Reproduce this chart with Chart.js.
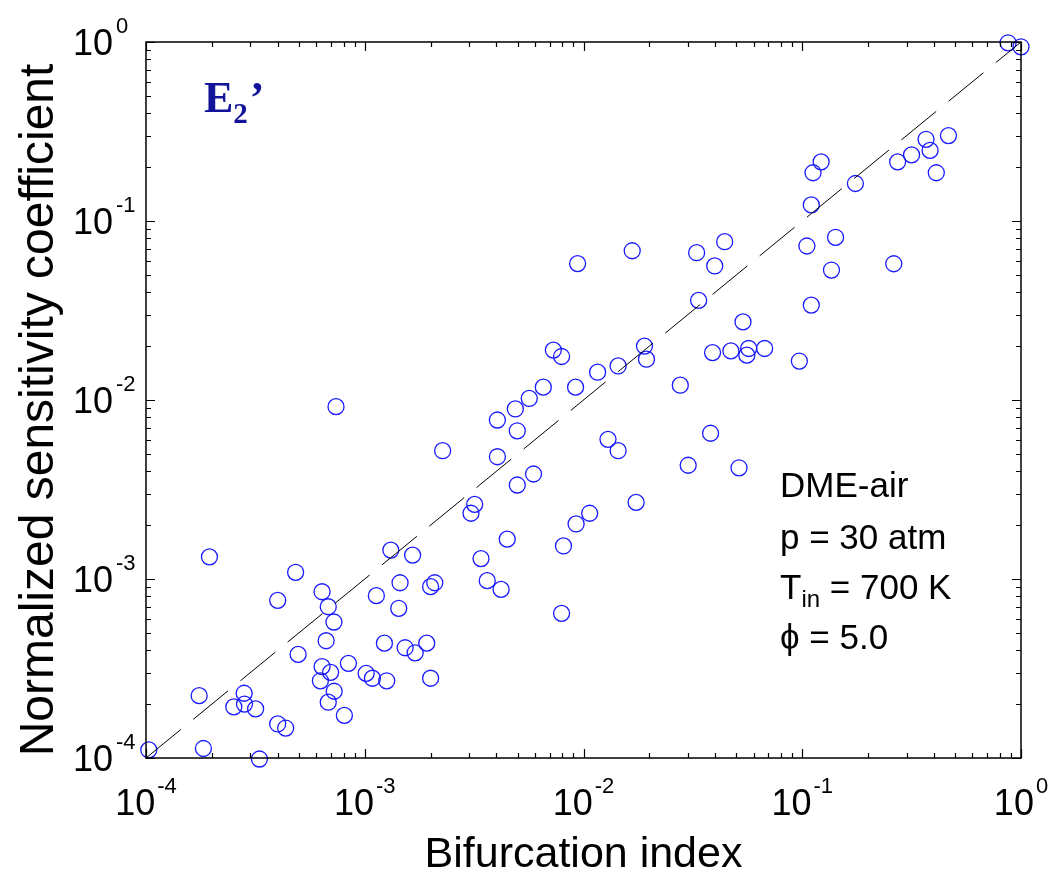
<!DOCTYPE html>
<html>
<head>
<meta charset="utf-8">
<script src="https://cdn.jsdelivr.net/npm/chart.js@4.4.0/dist/chart.umd.min.js"></script>
<style>
  html, body { margin: 0; padding: 0; background: #fff; }
  #wrap { width: 1049px; height: 872px; }
</style>
</head>
<body>
<div id="wrap"><canvas id="chart" width="1049" height="872"></canvas></div>
<script>
// Bifurcation index (x) vs normalized sensitivity coefficient (y)
const bifIndex = [
  0.873, 1.0, 0.466, 0.368, 0.384, 0.316, 0.273, 0.410, 0.122, 0.112,
  0.175, 0.110, 0.0167, 0.0329, 0.0442, 0.0398, 0.105, 0.142, 0.136, 0.262,
  0.110, 0.0336, 0.0536, 0.0389, 0.0472, 0.0569, 0.0558, 0.0673, 0.097, 0.0190,
  0.0194, 0.0144, 0.0277, 0.0094, 0.00728, 0.00794, 0.0116, 0.00655, 0.0092, 0.00565,
  0.00488, 0.00404, 0.00498, 0.000739, 0.00227, 0.00404, 0.01294, 0.0144, 0.0301, 0.00591,
  0.00498, 0.00318, 0.00306, 0.0174, 0.01067, 0.00925, 0.00448, 0.0081, 0.001316, 0.001655,
  0.00340, 0.000638, 0.000681, 0.000723, 0.000666, 0.00113, 0.00145, 0.00143, 0.00200, 0.00209,
  0.00363, 0.00420, 0.00794, 0.000103, 0.000183, 0.00033, 0.000195, 0.000175, 0.000252, 0.000281,
  0.000282, 0.000317, 0.0004, 0.000435, 0.0004, 0.000483, 0.000496, 0.000638, 0.000698, 0.000627,
  0.000725, 0.000681, 0.000807, 0.000842, 0.001015, 0.001084, 0.00126, 0.00123, 0.00153, 0.0017,
  0.00192, 0.002, 0.0381, 0.0514
];
const sensCoef = [
  0.99, 0.94, 0.300, 0.286, 0.248, 0.234, 0.214, 0.186, 0.214, 0.186,
  0.162, 0.123, 0.0682, 0.0665, 0.0766, 0.0561, 0.0725, 0.0811, 0.0532, 0.0577,
  0.0339, 0.0360, 0.0273, 0.0184, 0.0188, 0.0194, 0.0178, 0.0194, 0.0165, 0.0200,
  0.0169, 0.0155, 0.0121, 0.0578, 0.0190, 0.0175, 0.0143, 0.0118, 0.0118, 0.0102,
  0.00891, 0.00773, 0.00673, 0.00918, 0.00521, 0.00482, 0.00603, 0.00521, 0.00432, 0.00386,
  0.00335, 0.00261, 0.00233, 0.00268, 0.00233, 0.00203, 0.00167, 0.00153, 0.00145, 0.00136,
  0.00130, 0.000849, 0.000700, 0.000575, 0.000452, 0.000807, 0.000953, 0.000686, 0.000906, 0.000953,
  0.000979, 0.000875, 0.000643, 0.000111, 0.000113, 0.0000987, 0.00133, 0.000223, 0.000193, 0.000230,
  0.000200, 0.000188, 0.000155, 0.000147, 0.00076, 0.00109, 0.000379, 0.000324, 0.000301, 0.00027,
  0.000236, 0.000205, 0.000173, 0.000338, 0.000297, 0.000279, 0.00027, 0.000438, 0.000413, 0.000387,
  0.000438, 0.000279, 0.00652, 0.00418
];
// y = x reference line
const diagX = [1e-4, 1];
const diagY = [1e-4, 1];
const decadeTicks = [1e-4, 1e-3, 1e-2, 1e-1, 1];
const tickExponents = ['-4', '-3', '-2', '-1', '0'];
const infoLines = ['DME-air', 'p = 30 atm', 'T', '\u03D5 = 5.0'];

const SANS = '"Liberation Sans", Arial, sans-serif';

const axesPlugin = {
  id: 'axesPlugin',
  afterDatasetsDraw(chart) {
    const { ctx, chartArea: a, scales: { x, y } } = chart;
    ctx.save();
    ctx.strokeStyle = '#000';
    ctx.lineWidth = 1.5;
    ctx.strokeRect(a.left, a.top, a.right - a.left, a.bottom - a.top);

    // inward ticks on all sides
    ctx.lineWidth = 1.2;
    ctx.beginPath();
    const vals = [];
    for (let i = 0; i < decadeTicks.length - 1; i++) {
      for (let m = 1; m <= 9; m++) vals.push([m * decadeTicks[i], m === 1]);
    }
    vals.push([1, true]);
    vals.forEach(([v, major]) => {
      const len = major ? 9 : 5;
      const px = Math.round(x.getPixelForValue(v)) + 0.5;
      ctx.moveTo(px, a.bottom); ctx.lineTo(px, a.bottom - len);
      ctx.moveTo(px, a.top); ctx.lineTo(px, a.top + len);
      const py = Math.round(y.getPixelForValue(v)) + 0.5;
      ctx.moveTo(a.left, py); ctx.lineTo(a.left + len, py);
      ctx.moveTo(a.right, py); ctx.lineTo(a.right - len, py);
    });
    ctx.stroke();

    // tick labels 10^n
    ctx.fillStyle = '#000';
    ctx.textBaseline = 'alphabetic';
    decadeTicks.forEach((v, i) => {
      const ex = tickExponents[i];
      ctx.font = '36px ' + SANS;
      const w10 = ctx.measureText('10').width;
      ctx.font = '22px ' + SANS;
      const wEx = ctx.measureText(ex).width;
      // x axis
      const px = x.getPixelForValue(v);
      const start = px - (w10 + 2 + wEx) / 2;
      ctx.textAlign = 'left';
      ctx.font = '36px ' + SANS;
      ctx.fillText('10', start, 815);
      ctx.font = '22px ' + SANS;
      ctx.fillText(ex, start + w10 + 2, 793);
      // y axis
      const py = y.getPixelForValue(v);
      ctx.textAlign = 'right';
      ctx.font = '36px ' + SANS;
      ctx.fillText('10', 113, py + 13);
      ctx.textAlign = 'left';
      ctx.font = '22px ' + SANS;
      ctx.fillText(ex, 116, py - 9);
    });

    // axis titles
    ctx.textAlign = 'center';
    ctx.font = '43px ' + SANS;
    ctx.fillText('Bifurcation index', (a.left + a.right) / 2, 867);
    ctx.save();
    ctx.translate(53, 410);
    ctx.rotate(-Math.PI / 2);
    ctx.font = '48px ' + SANS;
    ctx.fillText('Normalized sensitivity coefficient', 0, 0);
    ctx.restore();

    // panel label E2'
    ctx.textAlign = 'left';
    ctx.fillStyle = '#14149a';
    ctx.font = 'bold 44px "Liberation Serif", "Times New Roman", serif';
    ctx.fillText('E', 204, 112);
    const wE = ctx.measureText('E').width;
    ctx.font = 'bold 29px "Liberation Serif", "Times New Roman", serif';
    ctx.fillText('2', 204 + wE, 123);
    const w2 = ctx.measureText('2').width;
    ctx.font = 'bold 44px "Liberation Serif", "Times New Roman", serif';
    ctx.fillText('\u2019', 204 + wE + w2 + 2, 112);

    // conditions text
    ctx.fillStyle = '#000';
    ctx.font = '35px ' + SANS;
    ctx.fillText(infoLines[0], 780, 497);
    ctx.fillText(infoLines[1], 780, 549);
    ctx.fillText(infoLines[2], 780, 599);
    const wT = ctx.measureText('T').width;
    ctx.font = '24px ' + SANS;
    ctx.fillText('in', 780 + wT, 607);
    const wIn = ctx.measureText('in').width;
    ctx.font = '35px ' + SANS;
    ctx.fillText(' = 700 K', 780 + wT + wIn, 599);
    ctx.fillText(infoLines[3], 780, 649);
    ctx.restore();
  }
};

const points = bifIndex.map((v, i) => ({ x: v, y: sensCoef[i] }));
const diagonal = diagX.map((v, i) => ({ x: v, y: diagY[i] }));

new Chart(document.getElementById('chart'), {
  type: 'scatter',
  data: {
    datasets: [
      {
        data: diagonal,
        showLine: true,
        borderColor: '#000',
        borderWidth: 1,
        borderDash: [45, 16],
        pointRadius: 0
      },
      {
        data: points,
        clip: false,
        pointStyle: 'circle',
        pointRadius: 8,
        pointBorderWidth: 1.3,
        borderColor: '#1a1aff',
        backgroundColor: 'rgba(0,0,0,0)'
      }
    ]
  },
  options: {
    responsive: false,
    animation: false,
    layout: { padding: { left: 0, right: 28, top: 42, bottom: 0 } },
    scales: {
      x: {
        type: 'logarithmic',
        min: 1e-4,
        max: 1,
        grid: { display: false },
        border: { display: false },
        ticks: { display: false },
        afterFit(s) { s.height = 114; }
      },
      y: {
        type: 'logarithmic',
        min: 1e-4,
        max: 1,
        grid: { display: false },
        border: { display: false },
        ticks: { display: false },
        afterFit(s) { s.width = 146; }
      }
    },
    plugins: {
      legend: { display: false },
      tooltip: { enabled: false }
    }
  },
  plugins: [axesPlugin]
});
</script>
</body>
</html>
